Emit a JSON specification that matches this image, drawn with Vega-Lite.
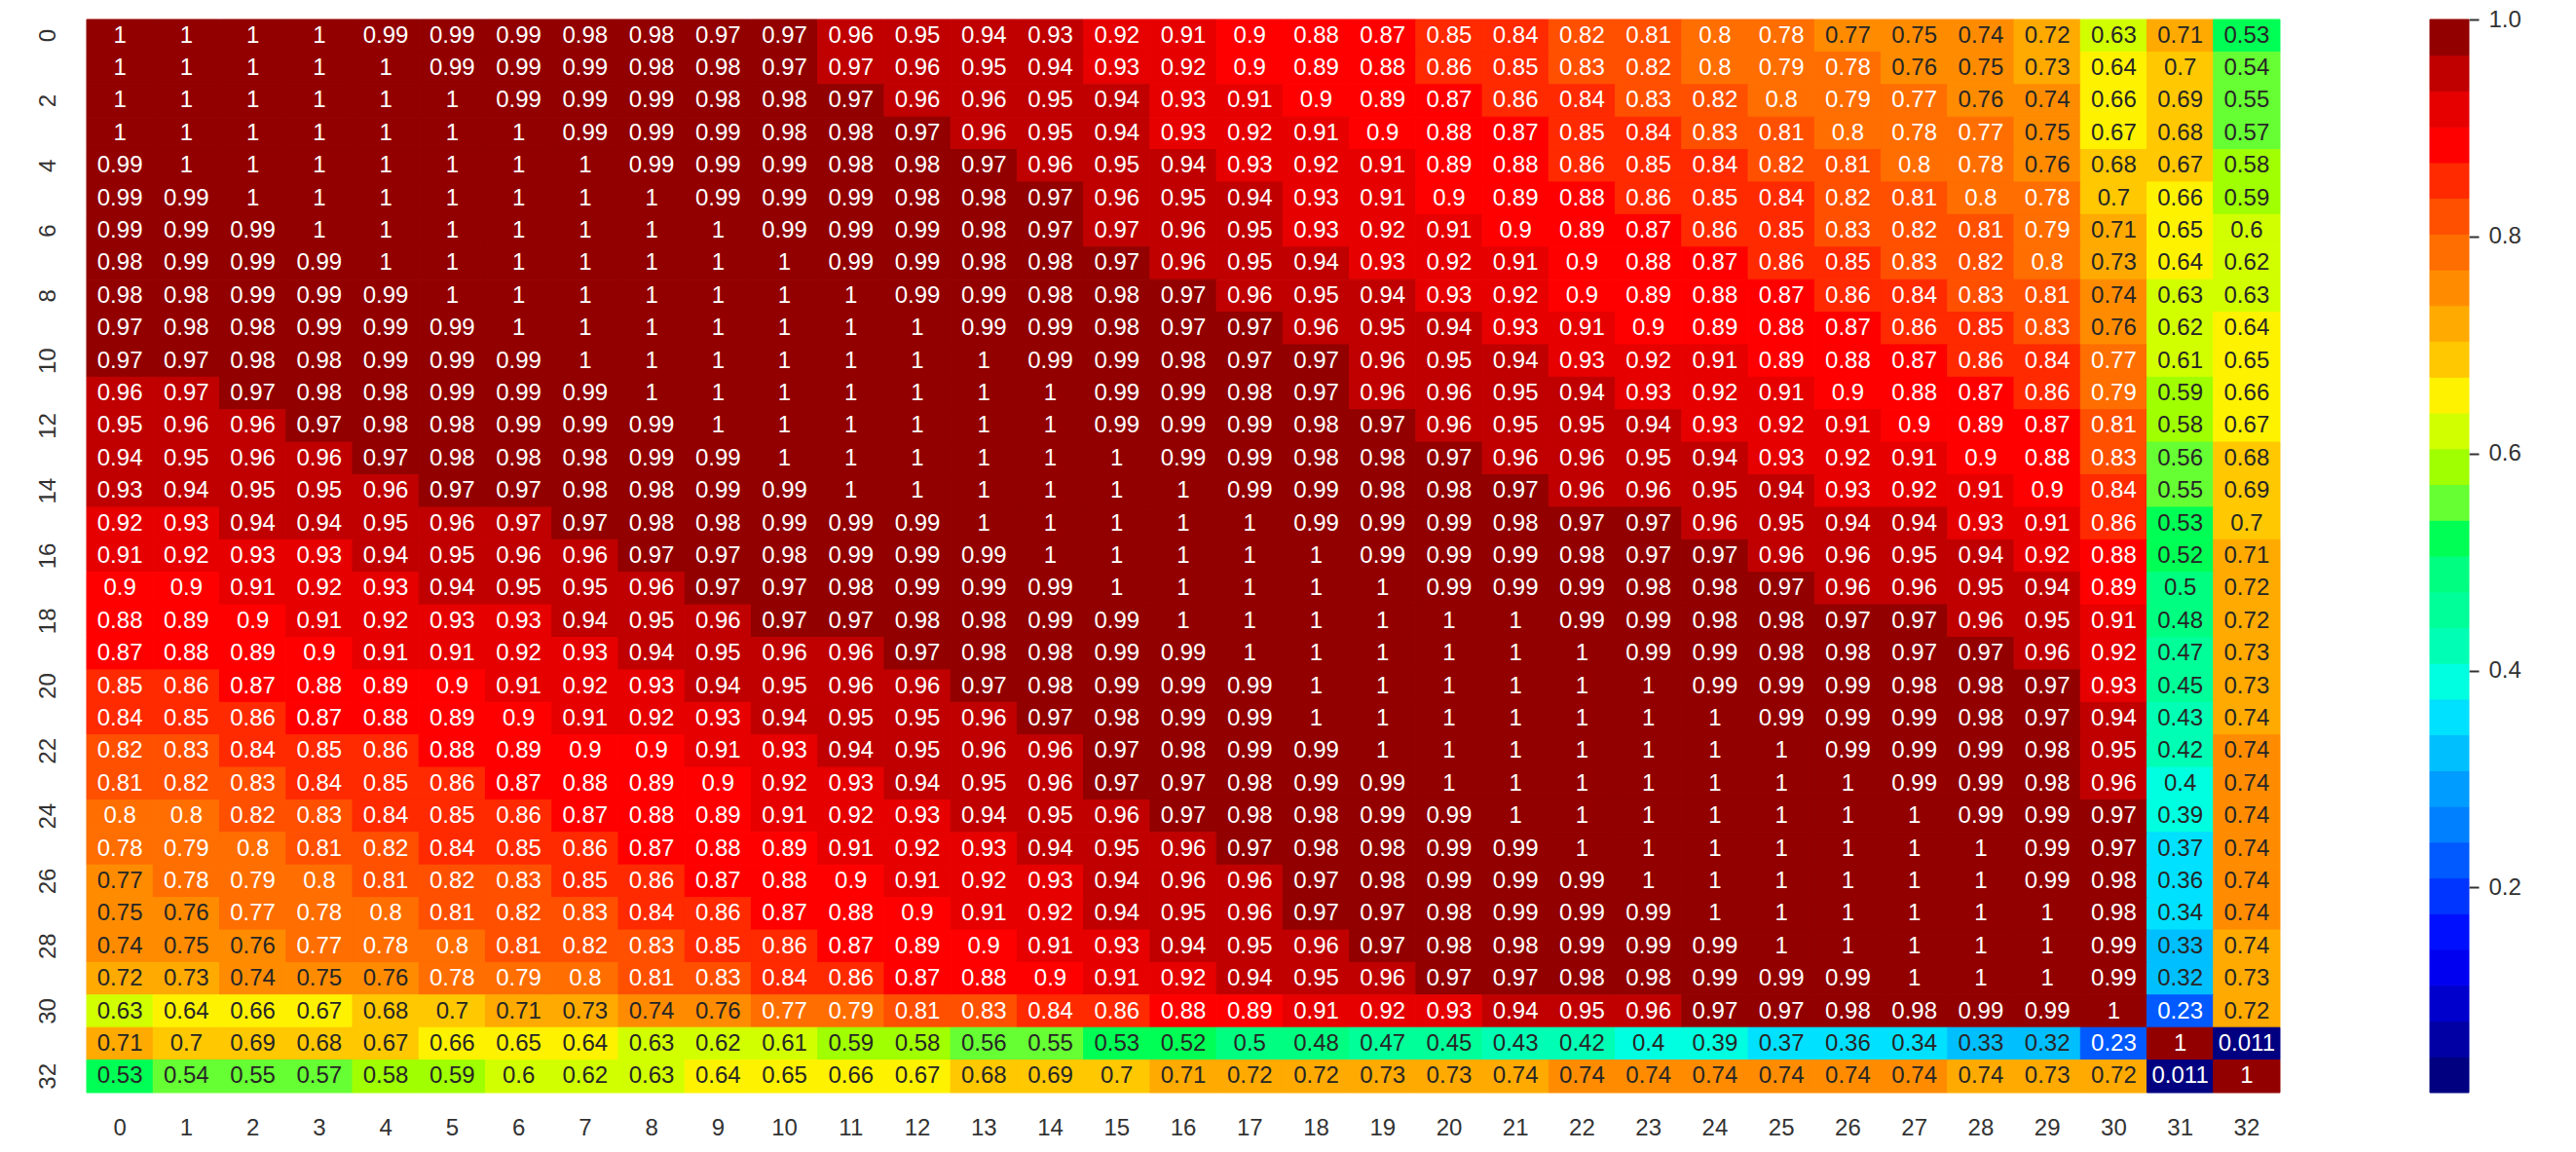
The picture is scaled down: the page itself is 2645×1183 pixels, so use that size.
{
"$schema":"https://vega.github.io/schema/vega-lite/v6.json",
"autosize":{"type":"pad"},
"padding":{"left":37,"top":8,"right":0,"bottom":10},
"background":"white",
"config":{"view":{"stroke":null},"font":"Liberation Sans"},
"spacing":152,
"resolve":{"scale":{"color":"independent","y":"independent","stroke":"independent"}},
"datasets":{"m":[
{"y":0,"x":0,"v":1},{"y":0,"x":1,"v":1},{"y":0,"x":2,"v":1},{"y":0,"x":3,"v":1},{"y":0,"x":4,"v":0.99},{"y":0,"x":5,"v":0.99},{"y":0,"x":6,"v":0.99},{"y":0,"x":7,"v":0.98},{"y":0,"x":8,"v":0.98},{"y":0,"x":9,"v":0.97},{"y":0,"x":10,"v":0.97},{"y":0,"x":11,"v":0.96},{"y":0,"x":12,"v":0.95},{"y":0,"x":13,"v":0.94},{"y":0,"x":14,"v":0.9345},{"y":0,"x":15,"v":0.92},{"y":0,"x":16,"v":0.91},{"y":0,"x":17,"v":0.9},{"y":0,"x":18,"v":0.88},{"y":0,"x":19,"v":0.87},{"y":0,"x":20,"v":0.85},{"y":0,"x":21,"v":0.84},{"y":0,"x":22,"v":0.82},{"y":0,"x":23,"v":0.81},{"y":0,"x":24,"v":0.8},{"y":0,"x":25,"v":0.78},{"y":0,"x":26,"v":0.7685},{"y":0,"x":27,"v":0.75},{"y":0,"x":28,"v":0.74},{"y":0,"x":29,"v":0.72},{"y":0,"x":30,"v":0.63},{"y":0,"x":31,"v":0.71},{"y":0,"x":32,"v":0.53},
{"y":1,"x":0,"v":1},{"y":1,"x":1,"v":1},{"y":1,"x":2,"v":1},{"y":1,"x":3,"v":1},{"y":1,"x":4,"v":1},{"y":1,"x":5,"v":0.99},{"y":1,"x":6,"v":0.99},{"y":1,"x":7,"v":0.99},{"y":1,"x":8,"v":0.98},{"y":1,"x":9,"v":0.98},{"y":1,"x":10,"v":0.97},{"y":1,"x":11,"v":0.966},{"y":1,"x":12,"v":0.96},{"y":1,"x":13,"v":0.95},{"y":1,"x":14,"v":0.94},{"y":1,"x":15,"v":0.93},{"y":1,"x":16,"v":0.92},{"y":1,"x":17,"v":0.9},{"y":1,"x":18,"v":0.89},{"y":1,"x":19,"v":0.88},{"y":1,"x":20,"v":0.86},{"y":1,"x":21,"v":0.85},{"y":1,"x":22,"v":0.83},{"y":1,"x":23,"v":0.82},{"y":1,"x":24,"v":0.8},{"y":1,"x":25,"v":0.79},{"y":1,"x":26,"v":0.78},{"y":1,"x":27,"v":0.76},{"y":1,"x":28,"v":0.75},{"y":1,"x":29,"v":0.73},{"y":1,"x":30,"v":0.64},{"y":1,"x":31,"v":0.7},{"y":1,"x":32,"v":0.54},
{"y":2,"x":0,"v":1},{"y":2,"x":1,"v":1},{"y":2,"x":2,"v":1},{"y":2,"x":3,"v":1},{"y":2,"x":4,"v":1},{"y":2,"x":5,"v":1},{"y":2,"x":6,"v":0.99},{"y":2,"x":7,"v":0.99},{"y":2,"x":8,"v":0.99},{"y":2,"x":9,"v":0.98},{"y":2,"x":10,"v":0.98},{"y":2,"x":11,"v":0.97},{"y":2,"x":12,"v":0.96},{"y":2,"x":13,"v":0.96},{"y":2,"x":14,"v":0.95},{"y":2,"x":15,"v":0.94},{"y":2,"x":16,"v":0.93},{"y":2,"x":17,"v":0.91},{"y":2,"x":18,"v":0.9},{"y":2,"x":19,"v":0.89},{"y":2,"x":20,"v":0.87},{"y":2,"x":21,"v":0.86},{"y":2,"x":22,"v":0.84},{"y":2,"x":23,"v":0.83},{"y":2,"x":24,"v":0.82},{"y":2,"x":25,"v":0.8},{"y":2,"x":26,"v":0.79},{"y":2,"x":27,"v":0.77},{"y":2,"x":28,"v":0.76},{"y":2,"x":29,"v":0.74},{"y":2,"x":30,"v":0.66},{"y":2,"x":31,"v":0.69},{"y":2,"x":32,"v":0.55},
{"y":3,"x":0,"v":1},{"y":3,"x":1,"v":1},{"y":3,"x":2,"v":1},{"y":3,"x":3,"v":1},{"y":3,"x":4,"v":1},{"y":3,"x":5,"v":1},{"y":3,"x":6,"v":1},{"y":3,"x":7,"v":0.99},{"y":3,"x":8,"v":0.99},{"y":3,"x":9,"v":0.99},{"y":3,"x":10,"v":0.98},{"y":3,"x":11,"v":0.98},{"y":3,"x":12,"v":0.97},{"y":3,"x":13,"v":0.96},{"y":3,"x":14,"v":0.95},{"y":3,"x":15,"v":0.94},{"y":3,"x":16,"v":0.93},{"y":3,"x":17,"v":0.92},{"y":3,"x":18,"v":0.91},{"y":3,"x":19,"v":0.9},{"y":3,"x":20,"v":0.88},{"y":3,"x":21,"v":0.87},{"y":3,"x":22,"v":0.85},{"y":3,"x":23,"v":0.84},{"y":3,"x":24,"v":0.83},{"y":3,"x":25,"v":0.81},{"y":3,"x":26,"v":0.8},{"y":3,"x":27,"v":0.78},{"y":3,"x":28,"v":0.77},{"y":3,"x":29,"v":0.75},{"y":3,"x":30,"v":0.67},{"y":3,"x":31,"v":0.68},{"y":3,"x":32,"v":0.57},
{"y":4,"x":0,"v":0.99},{"y":4,"x":1,"v":1},{"y":4,"x":2,"v":1},{"y":4,"x":3,"v":1},{"y":4,"x":4,"v":1},{"y":4,"x":5,"v":1},{"y":4,"x":6,"v":1},{"y":4,"x":7,"v":1},{"y":4,"x":8,"v":0.99},{"y":4,"x":9,"v":0.99},{"y":4,"x":10,"v":0.99},{"y":4,"x":11,"v":0.98},{"y":4,"x":12,"v":0.98},{"y":4,"x":13,"v":0.97},{"y":4,"x":14,"v":0.96},{"y":4,"x":15,"v":0.95},{"y":4,"x":16,"v":0.94},{"y":4,"x":17,"v":0.93},{"y":4,"x":18,"v":0.92},{"y":4,"x":19,"v":0.91},{"y":4,"x":20,"v":0.89},{"y":4,"x":21,"v":0.88},{"y":4,"x":22,"v":0.86},{"y":4,"x":23,"v":0.85},{"y":4,"x":24,"v":0.84},{"y":4,"x":25,"v":0.82},{"y":4,"x":26,"v":0.81},{"y":4,"x":27,"v":0.8},{"y":4,"x":28,"v":0.78},{"y":4,"x":29,"v":0.76},{"y":4,"x":30,"v":0.68},{"y":4,"x":31,"v":0.6705},{"y":4,"x":32,"v":0.58},
{"y":5,"x":0,"v":0.99},{"y":5,"x":1,"v":0.99},{"y":5,"x":2,"v":1},{"y":5,"x":3,"v":1},{"y":5,"x":4,"v":1},{"y":5,"x":5,"v":1},{"y":5,"x":6,"v":1},{"y":5,"x":7,"v":1},{"y":5,"x":8,"v":1},{"y":5,"x":9,"v":0.99},{"y":5,"x":10,"v":0.99},{"y":5,"x":11,"v":0.99},{"y":5,"x":12,"v":0.98},{"y":5,"x":13,"v":0.98},{"y":5,"x":14,"v":0.97},{"y":5,"x":15,"v":0.96},{"y":5,"x":16,"v":0.95},{"y":5,"x":17,"v":0.94},{"y":5,"x":18,"v":0.93},{"y":5,"x":19,"v":0.91},{"y":5,"x":20,"v":0.9},{"y":5,"x":21,"v":0.89},{"y":5,"x":22,"v":0.88},{"y":5,"x":23,"v":0.86},{"y":5,"x":24,"v":0.85},{"y":5,"x":25,"v":0.84},{"y":5,"x":26,"v":0.82},{"y":5,"x":27,"v":0.81},{"y":5,"x":28,"v":0.8},{"y":5,"x":29,"v":0.78},{"y":5,"x":30,"v":0.7},{"y":5,"x":31,"v":0.66},{"y":5,"x":32,"v":0.59},
{"y":6,"x":0,"v":0.99},{"y":6,"x":1,"v":0.99},{"y":6,"x":2,"v":0.99},{"y":6,"x":3,"v":1},{"y":6,"x":4,"v":1},{"y":6,"x":5,"v":1},{"y":6,"x":6,"v":1},{"y":6,"x":7,"v":1},{"y":6,"x":8,"v":1},{"y":6,"x":9,"v":1},{"y":6,"x":10,"v":0.99},{"y":6,"x":11,"v":0.99},{"y":6,"x":12,"v":0.99},{"y":6,"x":13,"v":0.98},{"y":6,"x":14,"v":0.97},{"y":6,"x":15,"v":0.966},{"y":6,"x":16,"v":0.96},{"y":6,"x":17,"v":0.95},{"y":6,"x":18,"v":0.93},{"y":6,"x":19,"v":0.92},{"y":6,"x":20,"v":0.91},{"y":6,"x":21,"v":0.9},{"y":6,"x":22,"v":0.89},{"y":6,"x":23,"v":0.87},{"y":6,"x":24,"v":0.86},{"y":6,"x":25,"v":0.85},{"y":6,"x":26,"v":0.83},{"y":6,"x":27,"v":0.82},{"y":6,"x":28,"v":0.81},{"y":6,"x":29,"v":0.79},{"y":6,"x":30,"v":0.71},{"y":6,"x":31,"v":0.65},{"y":6,"x":32,"v":0.6045},
{"y":7,"x":0,"v":0.98},{"y":7,"x":1,"v":0.99},{"y":7,"x":2,"v":0.99},{"y":7,"x":3,"v":0.99},{"y":7,"x":4,"v":1},{"y":7,"x":5,"v":1},{"y":7,"x":6,"v":1},{"y":7,"x":7,"v":1},{"y":7,"x":8,"v":1},{"y":7,"x":9,"v":1},{"y":7,"x":10,"v":1},{"y":7,"x":11,"v":0.99},{"y":7,"x":12,"v":0.99},{"y":7,"x":13,"v":0.98},{"y":7,"x":14,"v":0.98},{"y":7,"x":15,"v":0.97},{"y":7,"x":16,"v":0.96},{"y":7,"x":17,"v":0.95},{"y":7,"x":18,"v":0.94},{"y":7,"x":19,"v":0.93},{"y":7,"x":20,"v":0.92},{"y":7,"x":21,"v":0.91},{"y":7,"x":22,"v":0.9},{"y":7,"x":23,"v":0.88},{"y":7,"x":24,"v":0.87},{"y":7,"x":25,"v":0.86},{"y":7,"x":26,"v":0.85},{"y":7,"x":27,"v":0.83},{"y":7,"x":28,"v":0.82},{"y":7,"x":29,"v":0.8},{"y":7,"x":30,"v":0.73},{"y":7,"x":31,"v":0.64},{"y":7,"x":32,"v":0.62},
{"y":8,"x":0,"v":0.98},{"y":8,"x":1,"v":0.98},{"y":8,"x":2,"v":0.99},{"y":8,"x":3,"v":0.99},{"y":8,"x":4,"v":0.99},{"y":8,"x":5,"v":1},{"y":8,"x":6,"v":1},{"y":8,"x":7,"v":1},{"y":8,"x":8,"v":1},{"y":8,"x":9,"v":1},{"y":8,"x":10,"v":1},{"y":8,"x":11,"v":1},{"y":8,"x":12,"v":0.99},{"y":8,"x":13,"v":0.99},{"y":8,"x":14,"v":0.98},{"y":8,"x":15,"v":0.98},{"y":8,"x":16,"v":0.97},{"y":8,"x":17,"v":0.96},{"y":8,"x":18,"v":0.95},{"y":8,"x":19,"v":0.94},{"y":8,"x":20,"v":0.93},{"y":8,"x":21,"v":0.92},{"y":8,"x":22,"v":0.9},{"y":8,"x":23,"v":0.89},{"y":8,"x":24,"v":0.88},{"y":8,"x":25,"v":0.87},{"y":8,"x":26,"v":0.86},{"y":8,"x":27,"v":0.84},{"y":8,"x":28,"v":0.83},{"y":8,"x":29,"v":0.81},{"y":8,"x":30,"v":0.74},{"y":8,"x":31,"v":0.63},{"y":8,"x":32,"v":0.63},
{"y":9,"x":0,"v":0.97},{"y":9,"x":1,"v":0.98},{"y":9,"x":2,"v":0.98},{"y":9,"x":3,"v":0.99},{"y":9,"x":4,"v":0.99},{"y":9,"x":5,"v":0.99},{"y":9,"x":6,"v":1},{"y":9,"x":7,"v":1},{"y":9,"x":8,"v":1},{"y":9,"x":9,"v":1},{"y":9,"x":10,"v":1},{"y":9,"x":11,"v":1},{"y":9,"x":12,"v":1},{"y":9,"x":13,"v":0.99},{"y":9,"x":14,"v":0.99},{"y":9,"x":15,"v":0.98},{"y":9,"x":16,"v":0.97},{"y":9,"x":17,"v":0.97},{"y":9,"x":18,"v":0.96},{"y":9,"x":19,"v":0.95},{"y":9,"x":20,"v":0.94},{"y":9,"x":21,"v":0.93},{"y":9,"x":22,"v":0.91},{"y":9,"x":23,"v":0.9},{"y":9,"x":24,"v":0.89},{"y":9,"x":25,"v":0.88},{"y":9,"x":26,"v":0.87},{"y":9,"x":27,"v":0.86},{"y":9,"x":28,"v":0.85},{"y":9,"x":29,"v":0.83},{"y":9,"x":30,"v":0.76},{"y":9,"x":31,"v":0.62},{"y":9,"x":32,"v":0.64},
{"y":10,"x":0,"v":0.97},{"y":10,"x":1,"v":0.97},{"y":10,"x":2,"v":0.98},{"y":10,"x":3,"v":0.98},{"y":10,"x":4,"v":0.99},{"y":10,"x":5,"v":0.99},{"y":10,"x":6,"v":0.99},{"y":10,"x":7,"v":1},{"y":10,"x":8,"v":1},{"y":10,"x":9,"v":1},{"y":10,"x":10,"v":1},{"y":10,"x":11,"v":1},{"y":10,"x":12,"v":1},{"y":10,"x":13,"v":1},{"y":10,"x":14,"v":0.99},{"y":10,"x":15,"v":0.99},{"y":10,"x":16,"v":0.98},{"y":10,"x":17,"v":0.97},{"y":10,"x":18,"v":0.97},{"y":10,"x":19,"v":0.96},{"y":10,"x":20,"v":0.95},{"y":10,"x":21,"v":0.94},{"y":10,"x":22,"v":0.93},{"y":10,"x":23,"v":0.92},{"y":10,"x":24,"v":0.91},{"y":10,"x":25,"v":0.89},{"y":10,"x":26,"v":0.88},{"y":10,"x":27,"v":0.87},{"y":10,"x":28,"v":0.86},{"y":10,"x":29,"v":0.84},{"y":10,"x":30,"v":0.77},{"y":10,"x":31,"v":0.61},{"y":10,"x":32,"v":0.65},
{"y":11,"x":0,"v":0.96},{"y":11,"x":1,"v":0.966},{"y":11,"x":2,"v":0.97},{"y":11,"x":3,"v":0.98},{"y":11,"x":4,"v":0.98},{"y":11,"x":5,"v":0.99},{"y":11,"x":6,"v":0.99},{"y":11,"x":7,"v":0.99},{"y":11,"x":8,"v":1},{"y":11,"x":9,"v":1},{"y":11,"x":10,"v":1},{"y":11,"x":11,"v":1},{"y":11,"x":12,"v":1},{"y":11,"x":13,"v":1},{"y":11,"x":14,"v":1},{"y":11,"x":15,"v":0.99},{"y":11,"x":16,"v":0.99},{"y":11,"x":17,"v":0.98},{"y":11,"x":18,"v":0.97},{"y":11,"x":19,"v":0.96},{"y":11,"x":20,"v":0.96},{"y":11,"x":21,"v":0.95},{"y":11,"x":22,"v":0.94},{"y":11,"x":23,"v":0.93},{"y":11,"x":24,"v":0.92},{"y":11,"x":25,"v":0.91},{"y":11,"x":26,"v":0.9},{"y":11,"x":27,"v":0.88},{"y":11,"x":28,"v":0.87},{"y":11,"x":29,"v":0.86},{"y":11,"x":30,"v":0.79},{"y":11,"x":31,"v":0.59},{"y":11,"x":32,"v":0.66},
{"y":12,"x":0,"v":0.95},{"y":12,"x":1,"v":0.96},{"y":12,"x":2,"v":0.96},{"y":12,"x":3,"v":0.97},{"y":12,"x":4,"v":0.98},{"y":12,"x":5,"v":0.98},{"y":12,"x":6,"v":0.99},{"y":12,"x":7,"v":0.99},{"y":12,"x":8,"v":0.99},{"y":12,"x":9,"v":1},{"y":12,"x":10,"v":1},{"y":12,"x":11,"v":1},{"y":12,"x":12,"v":1},{"y":12,"x":13,"v":1},{"y":12,"x":14,"v":1},{"y":12,"x":15,"v":0.99},{"y":12,"x":16,"v":0.99},{"y":12,"x":17,"v":0.99},{"y":12,"x":18,"v":0.98},{"y":12,"x":19,"v":0.97},{"y":12,"x":20,"v":0.96},{"y":12,"x":21,"v":0.95},{"y":12,"x":22,"v":0.95},{"y":12,"x":23,"v":0.94},{"y":12,"x":24,"v":0.93},{"y":12,"x":25,"v":0.92},{"y":12,"x":26,"v":0.91},{"y":12,"x":27,"v":0.9},{"y":12,"x":28,"v":0.89},{"y":12,"x":29,"v":0.87},{"y":12,"x":30,"v":0.81},{"y":12,"x":31,"v":0.58},{"y":12,"x":32,"v":0.67},
{"y":13,"x":0,"v":0.94},{"y":13,"x":1,"v":0.95},{"y":13,"x":2,"v":0.96},{"y":13,"x":3,"v":0.96},{"y":13,"x":4,"v":0.97},{"y":13,"x":5,"v":0.98},{"y":13,"x":6,"v":0.98},{"y":13,"x":7,"v":0.98},{"y":13,"x":8,"v":0.99},{"y":13,"x":9,"v":0.99},{"y":13,"x":10,"v":1},{"y":13,"x":11,"v":1},{"y":13,"x":12,"v":1},{"y":13,"x":13,"v":1},{"y":13,"x":14,"v":1},{"y":13,"x":15,"v":1},{"y":13,"x":16,"v":0.99},{"y":13,"x":17,"v":0.99},{"y":13,"x":18,"v":0.98},{"y":13,"x":19,"v":0.98},{"y":13,"x":20,"v":0.97},{"y":13,"x":21,"v":0.96},{"y":13,"x":22,"v":0.96},{"y":13,"x":23,"v":0.95},{"y":13,"x":24,"v":0.94},{"y":13,"x":25,"v":0.93},{"y":13,"x":26,"v":0.92},{"y":13,"x":27,"v":0.91},{"y":13,"x":28,"v":0.9},{"y":13,"x":29,"v":0.88},{"y":13,"x":30,"v":0.83},{"y":13,"x":31,"v":0.56},{"y":13,"x":32,"v":0.68},
{"y":14,"x":0,"v":0.9345},{"y":14,"x":1,"v":0.94},{"y":14,"x":2,"v":0.95},{"y":14,"x":3,"v":0.95},{"y":14,"x":4,"v":0.96},{"y":14,"x":5,"v":0.97},{"y":14,"x":6,"v":0.97},{"y":14,"x":7,"v":0.98},{"y":14,"x":8,"v":0.98},{"y":14,"x":9,"v":0.99},{"y":14,"x":10,"v":0.99},{"y":14,"x":11,"v":1},{"y":14,"x":12,"v":1},{"y":14,"x":13,"v":1},{"y":14,"x":14,"v":1},{"y":14,"x":15,"v":1},{"y":14,"x":16,"v":1},{"y":14,"x":17,"v":0.99},{"y":14,"x":18,"v":0.99},{"y":14,"x":19,"v":0.98},{"y":14,"x":20,"v":0.98},{"y":14,"x":21,"v":0.97},{"y":14,"x":22,"v":0.96},{"y":14,"x":23,"v":0.96},{"y":14,"x":24,"v":0.95},{"y":14,"x":25,"v":0.94},{"y":14,"x":26,"v":0.93},{"y":14,"x":27,"v":0.92},{"y":14,"x":28,"v":0.91},{"y":14,"x":29,"v":0.9},{"y":14,"x":30,"v":0.84},{"y":14,"x":31,"v":0.55},{"y":14,"x":32,"v":0.69},
{"y":15,"x":0,"v":0.92},{"y":15,"x":1,"v":0.93},{"y":15,"x":2,"v":0.94},{"y":15,"x":3,"v":0.94},{"y":15,"x":4,"v":0.95},{"y":15,"x":5,"v":0.96},{"y":15,"x":6,"v":0.966},{"y":15,"x":7,"v":0.97},{"y":15,"x":8,"v":0.98},{"y":15,"x":9,"v":0.98},{"y":15,"x":10,"v":0.99},{"y":15,"x":11,"v":0.99},{"y":15,"x":12,"v":0.99},{"y":15,"x":13,"v":1},{"y":15,"x":14,"v":1},{"y":15,"x":15,"v":1},{"y":15,"x":16,"v":1},{"y":15,"x":17,"v":1},{"y":15,"x":18,"v":0.99},{"y":15,"x":19,"v":0.99},{"y":15,"x":20,"v":0.99},{"y":15,"x":21,"v":0.98},{"y":15,"x":22,"v":0.97},{"y":15,"x":23,"v":0.97},{"y":15,"x":24,"v":0.96},{"y":15,"x":25,"v":0.95},{"y":15,"x":26,"v":0.94},{"y":15,"x":27,"v":0.94},{"y":15,"x":28,"v":0.93},{"y":15,"x":29,"v":0.91},{"y":15,"x":30,"v":0.86},{"y":15,"x":31,"v":0.53},{"y":15,"x":32,"v":0.7},
{"y":16,"x":0,"v":0.91},{"y":16,"x":1,"v":0.92},{"y":16,"x":2,"v":0.93},{"y":16,"x":3,"v":0.93},{"y":16,"x":4,"v":0.94},{"y":16,"x":5,"v":0.95},{"y":16,"x":6,"v":0.96},{"y":16,"x":7,"v":0.96},{"y":16,"x":8,"v":0.97},{"y":16,"x":9,"v":0.97},{"y":16,"x":10,"v":0.98},{"y":16,"x":11,"v":0.99},{"y":16,"x":12,"v":0.99},{"y":16,"x":13,"v":0.99},{"y":16,"x":14,"v":1},{"y":16,"x":15,"v":1},{"y":16,"x":16,"v":1},{"y":16,"x":17,"v":1},{"y":16,"x":18,"v":1},{"y":16,"x":19,"v":0.99},{"y":16,"x":20,"v":0.99},{"y":16,"x":21,"v":0.99},{"y":16,"x":22,"v":0.98},{"y":16,"x":23,"v":0.97},{"y":16,"x":24,"v":0.97},{"y":16,"x":25,"v":0.96},{"y":16,"x":26,"v":0.96},{"y":16,"x":27,"v":0.95},{"y":16,"x":28,"v":0.94},{"y":16,"x":29,"v":0.92},{"y":16,"x":30,"v":0.88},{"y":16,"x":31,"v":0.52},{"y":16,"x":32,"v":0.71},
{"y":17,"x":0,"v":0.9},{"y":17,"x":1,"v":0.9},{"y":17,"x":2,"v":0.91},{"y":17,"x":3,"v":0.92},{"y":17,"x":4,"v":0.93},{"y":17,"x":5,"v":0.94},{"y":17,"x":6,"v":0.95},{"y":17,"x":7,"v":0.95},{"y":17,"x":8,"v":0.96},{"y":17,"x":9,"v":0.97},{"y":17,"x":10,"v":0.97},{"y":17,"x":11,"v":0.98},{"y":17,"x":12,"v":0.99},{"y":17,"x":13,"v":0.99},{"y":17,"x":14,"v":0.99},{"y":17,"x":15,"v":1},{"y":17,"x":16,"v":1},{"y":17,"x":17,"v":1},{"y":17,"x":18,"v":1},{"y":17,"x":19,"v":1},{"y":17,"x":20,"v":0.99},{"y":17,"x":21,"v":0.99},{"y":17,"x":22,"v":0.99},{"y":17,"x":23,"v":0.98},{"y":17,"x":24,"v":0.98},{"y":17,"x":25,"v":0.97},{"y":17,"x":26,"v":0.96},{"y":17,"x":27,"v":0.96},{"y":17,"x":28,"v":0.95},{"y":17,"x":29,"v":0.94},{"y":17,"x":30,"v":0.89},{"y":17,"x":31,"v":0.5},{"y":17,"x":32,"v":0.72},
{"y":18,"x":0,"v":0.88},{"y":18,"x":1,"v":0.89},{"y":18,"x":2,"v":0.9},{"y":18,"x":3,"v":0.91},{"y":18,"x":4,"v":0.92},{"y":18,"x":5,"v":0.93},{"y":18,"x":6,"v":0.93},{"y":18,"x":7,"v":0.94},{"y":18,"x":8,"v":0.95},{"y":18,"x":9,"v":0.96},{"y":18,"x":10,"v":0.97},{"y":18,"x":11,"v":0.97},{"y":18,"x":12,"v":0.98},{"y":18,"x":13,"v":0.98},{"y":18,"x":14,"v":0.99},{"y":18,"x":15,"v":0.99},{"y":18,"x":16,"v":1},{"y":18,"x":17,"v":1},{"y":18,"x":18,"v":1},{"y":18,"x":19,"v":1},{"y":18,"x":20,"v":1},{"y":18,"x":21,"v":1},{"y":18,"x":22,"v":0.99},{"y":18,"x":23,"v":0.99},{"y":18,"x":24,"v":0.98},{"y":18,"x":25,"v":0.98},{"y":18,"x":26,"v":0.97},{"y":18,"x":27,"v":0.97},{"y":18,"x":28,"v":0.96},{"y":18,"x":29,"v":0.95},{"y":18,"x":30,"v":0.91},{"y":18,"x":31,"v":0.48},{"y":18,"x":32,"v":0.72},
{"y":19,"x":0,"v":0.87},{"y":19,"x":1,"v":0.88},{"y":19,"x":2,"v":0.89},{"y":19,"x":3,"v":0.9},{"y":19,"x":4,"v":0.91},{"y":19,"x":5,"v":0.91},{"y":19,"x":6,"v":0.92},{"y":19,"x":7,"v":0.93},{"y":19,"x":8,"v":0.94},{"y":19,"x":9,"v":0.95},{"y":19,"x":10,"v":0.96},{"y":19,"x":11,"v":0.96},{"y":19,"x":12,"v":0.97},{"y":19,"x":13,"v":0.98},{"y":19,"x":14,"v":0.98},{"y":19,"x":15,"v":0.99},{"y":19,"x":16,"v":0.99},{"y":19,"x":17,"v":1},{"y":19,"x":18,"v":1},{"y":19,"x":19,"v":1},{"y":19,"x":20,"v":1},{"y":19,"x":21,"v":1},{"y":19,"x":22,"v":1},{"y":19,"x":23,"v":0.99},{"y":19,"x":24,"v":0.99},{"y":19,"x":25,"v":0.98},{"y":19,"x":26,"v":0.98},{"y":19,"x":27,"v":0.97},{"y":19,"x":28,"v":0.97},{"y":19,"x":29,"v":0.96},{"y":19,"x":30,"v":0.92},{"y":19,"x":31,"v":0.47},{"y":19,"x":32,"v":0.73},
{"y":20,"x":0,"v":0.85},{"y":20,"x":1,"v":0.86},{"y":20,"x":2,"v":0.87},{"y":20,"x":3,"v":0.88},{"y":20,"x":4,"v":0.89},{"y":20,"x":5,"v":0.9},{"y":20,"x":6,"v":0.91},{"y":20,"x":7,"v":0.92},{"y":20,"x":8,"v":0.93},{"y":20,"x":9,"v":0.94},{"y":20,"x":10,"v":0.95},{"y":20,"x":11,"v":0.96},{"y":20,"x":12,"v":0.96},{"y":20,"x":13,"v":0.97},{"y":20,"x":14,"v":0.98},{"y":20,"x":15,"v":0.99},{"y":20,"x":16,"v":0.99},{"y":20,"x":17,"v":0.99},{"y":20,"x":18,"v":1},{"y":20,"x":19,"v":1},{"y":20,"x":20,"v":1},{"y":20,"x":21,"v":1},{"y":20,"x":22,"v":1},{"y":20,"x":23,"v":1},{"y":20,"x":24,"v":0.99},{"y":20,"x":25,"v":0.99},{"y":20,"x":26,"v":0.99},{"y":20,"x":27,"v":0.98},{"y":20,"x":28,"v":0.98},{"y":20,"x":29,"v":0.97},{"y":20,"x":30,"v":0.93},{"y":20,"x":31,"v":0.45},{"y":20,"x":32,"v":0.73},
{"y":21,"x":0,"v":0.84},{"y":21,"x":1,"v":0.85},{"y":21,"x":2,"v":0.86},{"y":21,"x":3,"v":0.87},{"y":21,"x":4,"v":0.88},{"y":21,"x":5,"v":0.89},{"y":21,"x":6,"v":0.9},{"y":21,"x":7,"v":0.91},{"y":21,"x":8,"v":0.92},{"y":21,"x":9,"v":0.93},{"y":21,"x":10,"v":0.94},{"y":21,"x":11,"v":0.95},{"y":21,"x":12,"v":0.95},{"y":21,"x":13,"v":0.96},{"y":21,"x":14,"v":0.97},{"y":21,"x":15,"v":0.98},{"y":21,"x":16,"v":0.99},{"y":21,"x":17,"v":0.99},{"y":21,"x":18,"v":1},{"y":21,"x":19,"v":1},{"y":21,"x":20,"v":1},{"y":21,"x":21,"v":1},{"y":21,"x":22,"v":1},{"y":21,"x":23,"v":1},{"y":21,"x":24,"v":1},{"y":21,"x":25,"v":0.99},{"y":21,"x":26,"v":0.99},{"y":21,"x":27,"v":0.99},{"y":21,"x":28,"v":0.98},{"y":21,"x":29,"v":0.97},{"y":21,"x":30,"v":0.94},{"y":21,"x":31,"v":0.43},{"y":21,"x":32,"v":0.7355},
{"y":22,"x":0,"v":0.82},{"y":22,"x":1,"v":0.83},{"y":22,"x":2,"v":0.84},{"y":22,"x":3,"v":0.85},{"y":22,"x":4,"v":0.86},{"y":22,"x":5,"v":0.88},{"y":22,"x":6,"v":0.89},{"y":22,"x":7,"v":0.9},{"y":22,"x":8,"v":0.9},{"y":22,"x":9,"v":0.91},{"y":22,"x":10,"v":0.93},{"y":22,"x":11,"v":0.94},{"y":22,"x":12,"v":0.95},{"y":22,"x":13,"v":0.96},{"y":22,"x":14,"v":0.96},{"y":22,"x":15,"v":0.97},{"y":22,"x":16,"v":0.98},{"y":22,"x":17,"v":0.99},{"y":22,"x":18,"v":0.99},{"y":22,"x":19,"v":1},{"y":22,"x":20,"v":1},{"y":22,"x":21,"v":1},{"y":22,"x":22,"v":1},{"y":22,"x":23,"v":1},{"y":22,"x":24,"v":1},{"y":22,"x":25,"v":1},{"y":22,"x":26,"v":0.99},{"y":22,"x":27,"v":0.99},{"y":22,"x":28,"v":0.99},{"y":22,"x":29,"v":0.98},{"y":22,"x":30,"v":0.95},{"y":22,"x":31,"v":0.42},{"y":22,"x":32,"v":0.74},
{"y":23,"x":0,"v":0.81},{"y":23,"x":1,"v":0.82},{"y":23,"x":2,"v":0.83},{"y":23,"x":3,"v":0.84},{"y":23,"x":4,"v":0.85},{"y":23,"x":5,"v":0.86},{"y":23,"x":6,"v":0.87},{"y":23,"x":7,"v":0.88},{"y":23,"x":8,"v":0.89},{"y":23,"x":9,"v":0.9},{"y":23,"x":10,"v":0.92},{"y":23,"x":11,"v":0.93},{"y":23,"x":12,"v":0.94},{"y":23,"x":13,"v":0.95},{"y":23,"x":14,"v":0.96},{"y":23,"x":15,"v":0.97},{"y":23,"x":16,"v":0.97},{"y":23,"x":17,"v":0.98},{"y":23,"x":18,"v":0.99},{"y":23,"x":19,"v":0.99},{"y":23,"x":20,"v":1},{"y":23,"x":21,"v":1},{"y":23,"x":22,"v":1},{"y":23,"x":23,"v":1},{"y":23,"x":24,"v":1},{"y":23,"x":25,"v":1},{"y":23,"x":26,"v":1},{"y":23,"x":27,"v":0.99},{"y":23,"x":28,"v":0.99},{"y":23,"x":29,"v":0.98},{"y":23,"x":30,"v":0.96},{"y":23,"x":31,"v":0.4},{"y":23,"x":32,"v":0.74},
{"y":24,"x":0,"v":0.8},{"y":24,"x":1,"v":0.8},{"y":24,"x":2,"v":0.82},{"y":24,"x":3,"v":0.83},{"y":24,"x":4,"v":0.84},{"y":24,"x":5,"v":0.85},{"y":24,"x":6,"v":0.86},{"y":24,"x":7,"v":0.87},{"y":24,"x":8,"v":0.88},{"y":24,"x":9,"v":0.89},{"y":24,"x":10,"v":0.91},{"y":24,"x":11,"v":0.92},{"y":24,"x":12,"v":0.93},{"y":24,"x":13,"v":0.94},{"y":24,"x":14,"v":0.95},{"y":24,"x":15,"v":0.96},{"y":24,"x":16,"v":0.97},{"y":24,"x":17,"v":0.98},{"y":24,"x":18,"v":0.98},{"y":24,"x":19,"v":0.99},{"y":24,"x":20,"v":0.99},{"y":24,"x":21,"v":1},{"y":24,"x":22,"v":1},{"y":24,"x":23,"v":1},{"y":24,"x":24,"v":1},{"y":24,"x":25,"v":1},{"y":24,"x":26,"v":1},{"y":24,"x":27,"v":1},{"y":24,"x":28,"v":0.99},{"y":24,"x":29,"v":0.99},{"y":24,"x":30,"v":0.97},{"y":24,"x":31,"v":0.39},{"y":24,"x":32,"v":0.74},
{"y":25,"x":0,"v":0.78},{"y":25,"x":1,"v":0.79},{"y":25,"x":2,"v":0.8},{"y":25,"x":3,"v":0.81},{"y":25,"x":4,"v":0.82},{"y":25,"x":5,"v":0.84},{"y":25,"x":6,"v":0.85},{"y":25,"x":7,"v":0.86},{"y":25,"x":8,"v":0.87},{"y":25,"x":9,"v":0.88},{"y":25,"x":10,"v":0.89},{"y":25,"x":11,"v":0.91},{"y":25,"x":12,"v":0.92},{"y":25,"x":13,"v":0.93},{"y":25,"x":14,"v":0.94},{"y":25,"x":15,"v":0.95},{"y":25,"x":16,"v":0.96},{"y":25,"x":17,"v":0.97},{"y":25,"x":18,"v":0.98},{"y":25,"x":19,"v":0.98},{"y":25,"x":20,"v":0.99},{"y":25,"x":21,"v":0.99},{"y":25,"x":22,"v":1},{"y":25,"x":23,"v":1},{"y":25,"x":24,"v":1},{"y":25,"x":25,"v":1},{"y":25,"x":26,"v":1},{"y":25,"x":27,"v":1},{"y":25,"x":28,"v":1},{"y":25,"x":29,"v":0.99},{"y":25,"x":30,"v":0.97},{"y":25,"x":31,"v":0.37},{"y":25,"x":32,"v":0.74},
{"y":26,"x":0,"v":0.7685},{"y":26,"x":1,"v":0.78},{"y":26,"x":2,"v":0.79},{"y":26,"x":3,"v":0.8},{"y":26,"x":4,"v":0.81},{"y":26,"x":5,"v":0.82},{"y":26,"x":6,"v":0.83},{"y":26,"x":7,"v":0.85},{"y":26,"x":8,"v":0.86},{"y":26,"x":9,"v":0.87},{"y":26,"x":10,"v":0.88},{"y":26,"x":11,"v":0.9},{"y":26,"x":12,"v":0.91},{"y":26,"x":13,"v":0.92},{"y":26,"x":14,"v":0.93},{"y":26,"x":15,"v":0.94},{"y":26,"x":16,"v":0.96},{"y":26,"x":17,"v":0.96},{"y":26,"x":18,"v":0.97},{"y":26,"x":19,"v":0.98},{"y":26,"x":20,"v":0.99},{"y":26,"x":21,"v":0.99},{"y":26,"x":22,"v":0.99},{"y":26,"x":23,"v":1},{"y":26,"x":24,"v":1},{"y":26,"x":25,"v":1},{"y":26,"x":26,"v":1},{"y":26,"x":27,"v":1},{"y":26,"x":28,"v":1},{"y":26,"x":29,"v":0.99},{"y":26,"x":30,"v":0.98},{"y":26,"x":31,"v":0.36},{"y":26,"x":32,"v":0.74},
{"y":27,"x":0,"v":0.75},{"y":27,"x":1,"v":0.76},{"y":27,"x":2,"v":0.77},{"y":27,"x":3,"v":0.78},{"y":27,"x":4,"v":0.8},{"y":27,"x":5,"v":0.81},{"y":27,"x":6,"v":0.82},{"y":27,"x":7,"v":0.83},{"y":27,"x":8,"v":0.84},{"y":27,"x":9,"v":0.86},{"y":27,"x":10,"v":0.87},{"y":27,"x":11,"v":0.88},{"y":27,"x":12,"v":0.9},{"y":27,"x":13,"v":0.91},{"y":27,"x":14,"v":0.92},{"y":27,"x":15,"v":0.94},{"y":27,"x":16,"v":0.95},{"y":27,"x":17,"v":0.96},{"y":27,"x":18,"v":0.97},{"y":27,"x":19,"v":0.97},{"y":27,"x":20,"v":0.98},{"y":27,"x":21,"v":0.99},{"y":27,"x":22,"v":0.99},{"y":27,"x":23,"v":0.99},{"y":27,"x":24,"v":1},{"y":27,"x":25,"v":1},{"y":27,"x":26,"v":1},{"y":27,"x":27,"v":1},{"y":27,"x":28,"v":1},{"y":27,"x":29,"v":1},{"y":27,"x":30,"v":0.98},{"y":27,"x":31,"v":0.3415},{"y":27,"x":32,"v":0.74},
{"y":28,"x":0,"v":0.74},{"y":28,"x":1,"v":0.75},{"y":28,"x":2,"v":0.76},{"y":28,"x":3,"v":0.77},{"y":28,"x":4,"v":0.78},{"y":28,"x":5,"v":0.8},{"y":28,"x":6,"v":0.81},{"y":28,"x":7,"v":0.82},{"y":28,"x":8,"v":0.83},{"y":28,"x":9,"v":0.85},{"y":28,"x":10,"v":0.86},{"y":28,"x":11,"v":0.87},{"y":28,"x":12,"v":0.89},{"y":28,"x":13,"v":0.9},{"y":28,"x":14,"v":0.91},{"y":28,"x":15,"v":0.93},{"y":28,"x":16,"v":0.94},{"y":28,"x":17,"v":0.95},{"y":28,"x":18,"v":0.96},{"y":28,"x":19,"v":0.97},{"y":28,"x":20,"v":0.98},{"y":28,"x":21,"v":0.98},{"y":28,"x":22,"v":0.99},{"y":28,"x":23,"v":0.99},{"y":28,"x":24,"v":0.99},{"y":28,"x":25,"v":1},{"y":28,"x":26,"v":1},{"y":28,"x":27,"v":1},{"y":28,"x":28,"v":1},{"y":28,"x":29,"v":1},{"y":28,"x":30,"v":0.99},{"y":28,"x":31,"v":0.33},{"y":28,"x":32,"v":0.7355},
{"y":29,"x":0,"v":0.72},{"y":29,"x":1,"v":0.73},{"y":29,"x":2,"v":0.74},{"y":29,"x":3,"v":0.75},{"y":29,"x":4,"v":0.76},{"y":29,"x":5,"v":0.78},{"y":29,"x":6,"v":0.79},{"y":29,"x":7,"v":0.8},{"y":29,"x":8,"v":0.81},{"y":29,"x":9,"v":0.83},{"y":29,"x":10,"v":0.84},{"y":29,"x":11,"v":0.86},{"y":29,"x":12,"v":0.87},{"y":29,"x":13,"v":0.88},{"y":29,"x":14,"v":0.9},{"y":29,"x":15,"v":0.91},{"y":29,"x":16,"v":0.92},{"y":29,"x":17,"v":0.94},{"y":29,"x":18,"v":0.95},{"y":29,"x":19,"v":0.96},{"y":29,"x":20,"v":0.97},{"y":29,"x":21,"v":0.97},{"y":29,"x":22,"v":0.98},{"y":29,"x":23,"v":0.98},{"y":29,"x":24,"v":0.99},{"y":29,"x":25,"v":0.99},{"y":29,"x":26,"v":0.99},{"y":29,"x":27,"v":1},{"y":29,"x":28,"v":1},{"y":29,"x":29,"v":1},{"y":29,"x":30,"v":0.99},{"y":29,"x":31,"v":0.32},{"y":29,"x":32,"v":0.73},
{"y":30,"x":0,"v":0.63},{"y":30,"x":1,"v":0.64},{"y":30,"x":2,"v":0.66},{"y":30,"x":3,"v":0.67},{"y":30,"x":4,"v":0.68},{"y":30,"x":5,"v":0.7},{"y":30,"x":6,"v":0.71},{"y":30,"x":7,"v":0.73},{"y":30,"x":8,"v":0.74},{"y":30,"x":9,"v":0.76},{"y":30,"x":10,"v":0.77},{"y":30,"x":11,"v":0.79},{"y":30,"x":12,"v":0.81},{"y":30,"x":13,"v":0.83},{"y":30,"x":14,"v":0.84},{"y":30,"x":15,"v":0.86},{"y":30,"x":16,"v":0.88},{"y":30,"x":17,"v":0.89},{"y":30,"x":18,"v":0.91},{"y":30,"x":19,"v":0.92},{"y":30,"x":20,"v":0.93},{"y":30,"x":21,"v":0.94},{"y":30,"x":22,"v":0.95},{"y":30,"x":23,"v":0.96},{"y":30,"x":24,"v":0.97},{"y":30,"x":25,"v":0.97},{"y":30,"x":26,"v":0.98},{"y":30,"x":27,"v":0.98},{"y":30,"x":28,"v":0.99},{"y":30,"x":29,"v":0.99},{"y":30,"x":30,"v":1},{"y":30,"x":31,"v":0.23},{"y":30,"x":32,"v":0.72},
{"y":31,"x":0,"v":0.71},{"y":31,"x":1,"v":0.7},{"y":31,"x":2,"v":0.69},{"y":31,"x":3,"v":0.68},{"y":31,"x":4,"v":0.6705},{"y":31,"x":5,"v":0.66},{"y":31,"x":6,"v":0.65},{"y":31,"x":7,"v":0.64},{"y":31,"x":8,"v":0.63},{"y":31,"x":9,"v":0.62},{"y":31,"x":10,"v":0.61},{"y":31,"x":11,"v":0.59},{"y":31,"x":12,"v":0.58},{"y":31,"x":13,"v":0.56},{"y":31,"x":14,"v":0.55},{"y":31,"x":15,"v":0.53},{"y":31,"x":16,"v":0.52},{"y":31,"x":17,"v":0.5},{"y":31,"x":18,"v":0.48},{"y":31,"x":19,"v":0.47},{"y":31,"x":20,"v":0.45},{"y":31,"x":21,"v":0.43},{"y":31,"x":22,"v":0.42},{"y":31,"x":23,"v":0.4},{"y":31,"x":24,"v":0.39},{"y":31,"x":25,"v":0.37},{"y":31,"x":26,"v":0.36},{"y":31,"x":27,"v":0.3415},{"y":31,"x":28,"v":0.33},{"y":31,"x":29,"v":0.32},{"y":31,"x":30,"v":0.23},{"y":31,"x":31,"v":1},{"y":31,"x":32,"v":0.011},
{"y":32,"x":0,"v":0.53},{"y":32,"x":1,"v":0.54},{"y":32,"x":2,"v":0.55},{"y":32,"x":3,"v":0.57},{"y":32,"x":4,"v":0.58},{"y":32,"x":5,"v":0.59},{"y":32,"x":6,"v":0.6045},{"y":32,"x":7,"v":0.62},{"y":32,"x":8,"v":0.63},{"y":32,"x":9,"v":0.64},{"y":32,"x":10,"v":0.65},{"y":32,"x":11,"v":0.66},{"y":32,"x":12,"v":0.67},{"y":32,"x":13,"v":0.68},{"y":32,"x":14,"v":0.69},{"y":32,"x":15,"v":0.7},{"y":32,"x":16,"v":0.71},{"y":32,"x":17,"v":0.72},{"y":32,"x":18,"v":0.72},{"y":32,"x":19,"v":0.73},{"y":32,"x":20,"v":0.73},{"y":32,"x":21,"v":0.7355},{"y":32,"x":22,"v":0.74},{"y":32,"x":23,"v":0.74},{"y":32,"x":24,"v":0.74},{"y":32,"x":25,"v":0.74},{"y":32,"x":26,"v":0.74},{"y":32,"x":27,"v":0.74},{"y":32,"x":28,"v":0.7355},{"y":32,"x":29,"v":0.73},{"y":32,"x":30,"v":0.72},{"y":32,"x":31,"v":0.011},{"y":32,"x":32,"v":1}
],
"bands":[
{"lo":0.011,"hi":0.04397,"m":0.0275},{"lo":0.04397,"hi":0.07693,"m":0.0605},{"lo":0.07693,"hi":0.1099,"m":0.0934},{"lo":0.1099,"hi":0.1429,"m":0.1264},{"lo":0.1429,"hi":0.1758,"m":0.1594},{"lo":0.1758,"hi":0.2088,"m":0.1923},{"lo":0.2088,"hi":0.2418,"m":0.2253},{"lo":0.2418,"hi":0.2747,"m":0.2583},{"lo":0.2747,"hi":0.3077,"m":0.2912},{"lo":0.3077,"hi":0.3407,"m":0.3242},{"lo":0.3407,"hi":0.3736,"m":0.3572},{"lo":0.3736,"hi":0.4066,"m":0.3901},{"lo":0.4066,"hi":0.4396,"m":0.4231},{"lo":0.4396,"hi":0.4725,"m":0.4561},{"lo":0.4725,"hi":0.5055,"m":0.489},{"lo":0.5055,"hi":0.5385,"m":0.522},{"lo":0.5385,"hi":0.5714,"m":0.555},{"lo":0.5714,"hi":0.6044,"m":0.5879},{"lo":0.6044,"hi":0.6374,"m":0.6209},{"lo":0.6374,"hi":0.6703,"m":0.6539},{"lo":0.6703,"hi":0.7033,"m":0.6868},{"lo":0.7033,"hi":0.7363,"m":0.7198},{"lo":0.7363,"hi":0.7692,"m":0.7528},{"lo":0.7692,"hi":0.8022,"m":0.7857},{"lo":0.8022,"hi":0.8352,"m":0.8187},{"lo":0.8352,"hi":0.8681,"m":0.8517},{"lo":0.8681,"hi":0.9011,"m":0.8846},{"lo":0.9011,"hi":0.9341,"m":0.9176},{"lo":0.9341,"hi":0.967,"m":0.9506},{"lo":0.967,"hi":1.0,"m":0.9835}
]},
"hconcat":[
{"width":2252,"height":1102,
 "data":{"name":"m"},
 "encoding":{
  "x":{"field":"x","type":"ordinal","scale":{"paddingInner":0,"paddingOuter":0},"axis":{"title":null,"labelAngle":0,"ticks":false,"domain":false,"labelFontSize":24,"labelColor":"#333333","labelPadding":24}},
  "y":{"field":"y","type":"ordinal","scale":{"paddingInner":0,"paddingOuter":0},"axis":{"title":null,"values":[0,2,4,6,8,10,12,14,16,18,20,22,24,26,28,30,32],"labelAngle":270,"labelAlign":"center","labelBaseline":"bottom","ticks":false,"domain":false,"labelFontSize":24,"labelColor":"#333333","labelPadding":28}}
 },
 "layer":[
  {"mark":{"type":"rect","strokeWidth":1},
   "encoding":{
    "color":{"field":"v","type":"quantitative","legend":null,
     "scale":{"type":"quantize","domain":[0.011,1],"nice":false,"zero":false,
      "range":["#000080","#0000A5","#0000CC","#0000F0","#0010FF","#0035FF","#005AFF","#0080FF","#009CFF","#00BFFF","#00E0FF","#00FFE0","#00FFB4","#00FF99","#00FF80","#00FF55","#66FF33","#A0FF00","#D2FF00","#FFF200","#FFC800","#FFAA00","#FF8C00","#FF6E00","#FF5000","#FF2A00","#FF0000","#E60000","#C00000","#920000"]}},
    "stroke":{"field":"v","type":"quantitative","legend":null,
     "scale":{"type":"quantize","domain":[0.011,1],"nice":false,"zero":false,
      "range":["#000080","#0000A5","#0000CC","#0000F0","#0010FF","#0035FF","#005AFF","#0080FF","#009CFF","#00BFFF","#00E0FF","#00FFE0","#00FFB4","#00FF99","#00FF80","#00FF55","#66FF33","#A0FF00","#D2FF00","#FFF200","#FFC800","#FFAA00","#FF8C00","#FF6E00","#FF5000","#FF2A00","#FF0000","#E60000","#C00000","#920000"]}}}},
  {"mark":{"type":"text","fontSize":24,"font":"Liberation Sans"},
   "encoding":{"text":{"field":"v","type":"quantitative","format":".2~g"},
    "color":{"condition":{"test":"datum.v >= 0.7692 || datum.v < 0.3077","value":"#ffffff"},"value":"#262626"}}}
 ]},
{"width":40,"height":1102,
 "data":{"name":"bands"},
 "mark":{"type":"rect","strokeWidth":1},
 "encoding":{
  "y":{"field":"lo","type":"quantitative","scale":{"domain":[0.011,1],"nice":false,"zero":false},
   "axis":{"orient":"right","title":null,"values":[0.2,0.4,0.6,0.8,1.0],"format":".1f","grid":false,"domain":false,"ticks":true,"tickSize":10,"tickColor":"#333333","tickWidth":2,"labelFontSize":24,"labelColor":"#333333","labelPadding":10}},
  "y2":{"field":"hi"},
  "color":{"field":"m","type":"quantitative","legend":null,
   "scale":{"type":"quantize","domain":[0.011,1],"nice":false,"zero":false,
    "range":["#000080","#0000A5","#0000CC","#0000F0","#0010FF","#0035FF","#005AFF","#0080FF","#009CFF","#00BFFF","#00E0FF","#00FFE0","#00FFB4","#00FF99","#00FF80","#00FF55","#66FF33","#A0FF00","#D2FF00","#FFF200","#FFC800","#FFAA00","#FF8C00","#FF6E00","#FF5000","#FF2A00","#FF0000","#E60000","#C00000","#920000"]}},
  "stroke":{"field":"m","type":"quantitative","legend":null,
   "scale":{"type":"quantize","domain":[0.011,1],"nice":false,"zero":false,
    "range":["#000080","#0000A5","#0000CC","#0000F0","#0010FF","#0035FF","#005AFF","#0080FF","#009CFF","#00BFFF","#00E0FF","#00FFE0","#00FFB4","#00FF99","#00FF80","#00FF55","#66FF33","#A0FF00","#D2FF00","#FFF200","#FFC800","#FFAA00","#FF8C00","#FF6E00","#FF5000","#FF2A00","#FF0000","#E60000","#C00000","#920000"]}}
 }}
]
}
